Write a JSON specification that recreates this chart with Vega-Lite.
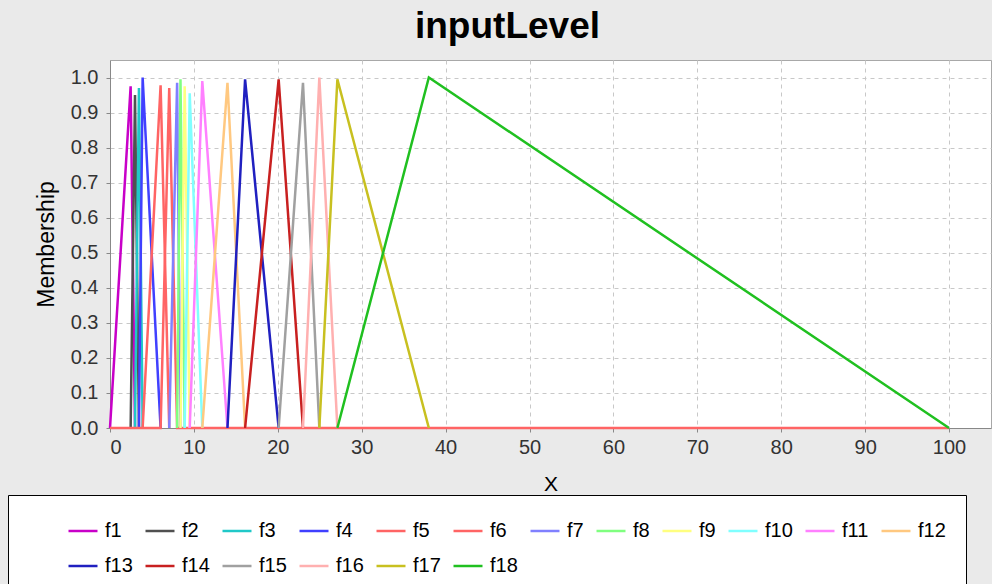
{
  "$schema": "https://vega.github.io/schema/vega-lite/v6.json",
  "width": 881,
  "height": 368,
  "autosize": {"type": "none"},
  "padding": {"left": 110, "top": 60, "right": 1, "bottom": 156},
  "background": "#EAEAEA",
  "title": {
    "text": "inputLevel",
    "font": "Liberation Sans",
    "fontSize": 37,
    "fontWeight": "bold",
    "color": "#000000",
    "anchor": "middle",
    "baseline": "alphabetic",
    "offset": 20,
    "dx": -43,
    "dy": 35
  },
  "config": {
    "view": {"fill": "#FFFFFF", "stroke": "#A8A8A8"},
    "axis": {
      "labelFont": "Liberation Sans",
      "titleFont": "Liberation Sans",
      "labelFontSize": 20,
      "titleFontSize": 21,
      "titleFontWeight": "normal",
      "labelColor": "#333333",
      "titleColor": "#000000",
      "domainColor": "#888888",
      "tickColor": "#888888",
      "tickSize": 4,
      "gridColor": "#C8C8C8",
      "gridDash": [4, 4],
      "gridWidth": 1
    },
    "legend": {
      "orient": "none",
      "direction": "horizontal",
      "legendX": -102,
      "legendY": 435,
      "fillColor": "#FFFFFF",
      "strokeColor": "#000000",
      "padding": 20,
      "titleOrient": "left",
      "titlePadding": 39,
      "columns": 12,
      "gridAlign": "none",
      "symbolType": "stroke",
      "symbolSize": 841,
      "symbolStrokeWidth": 2.5,
      "labelFont": "Liberation Sans",
      "labelFontSize": 20,
      "labelColor": "#000000",
      "labelOffset": 6,
      "columnPadding": 7,
      "rowPadding": 9
    }
  },
  "data": {
    "values": [
      {"s": "f1", "x": 0, "y": 0}, {"s": "f1", "x": 2.46, "y": 0.975}, {"s": "f1", "x": 2.98, "y": 0},
      {"s": "f2", "x": 2.46, "y": 0}, {"s": "f2", "x": 2.98, "y": 0.95}, {"s": "f2", "x": 3.45, "y": 0},
      {"s": "f3", "x": 2.98, "y": 0}, {"s": "f3", "x": 3.45, "y": 0.97}, {"s": "f3", "x": 3.89, "y": 0},
      {"s": "f4", "x": 3.45, "y": 0}, {"s": "f4", "x": 3.89, "y": 1.0}, {"s": "f4", "x": 6.03, "y": 0},
      {"s": "f5", "x": 3.89, "y": 0}, {"s": "f5", "x": 6.03, "y": 0.978}, {"s": "f5", "x": 7.06, "y": 0},
      {"s": "f6", "x": 0, "y": 0}, {"s": "f6", "x": 6.03, "y": 0}, {"s": "f6", "x": 7.06, "y": 0.97}, {"s": "f6", "x": 8.0, "y": 0}, {"s": "f6", "x": 100, "y": 0},
      {"s": "f7", "x": 7.06, "y": 0}, {"s": "f7", "x": 8.0, "y": 0.985}, {"s": "f7", "x": 8.4, "y": 0},
      {"s": "f8", "x": 8.0, "y": 0}, {"s": "f8", "x": 8.4, "y": 0.995}, {"s": "f8", "x": 8.9, "y": 0},
      {"s": "f9", "x": 8.4, "y": 0}, {"s": "f9", "x": 8.9, "y": 0.975}, {"s": "f9", "x": 9.5, "y": 0},
      {"s": "f10", "x": 8.9, "y": 0}, {"s": "f10", "x": 9.5, "y": 0.955}, {"s": "f10", "x": 11.0, "y": 0},
      {"s": "f11", "x": 9.5, "y": 0}, {"s": "f11", "x": 11.0, "y": 0.99}, {"s": "f11", "x": 14.0, "y": 0},
      {"s": "f12", "x": 11.0, "y": 0}, {"s": "f12", "x": 14.0, "y": 0.985}, {"s": "f12", "x": 16.1, "y": 0},
      {"s": "f13", "x": 14.0, "y": 0}, {"s": "f13", "x": 16.1, "y": 0.995}, {"s": "f13", "x": 20.1, "y": 0},
      {"s": "f14", "x": 16.1, "y": 0}, {"s": "f14", "x": 20.1, "y": 0.995}, {"s": "f14", "x": 23.0, "y": 0},
      {"s": "f15", "x": 20.1, "y": 0}, {"s": "f15", "x": 23.0, "y": 0.985}, {"s": "f15", "x": 24.95, "y": 0},
      {"s": "f16", "x": 23.0, "y": 0}, {"s": "f16", "x": 24.95, "y": 1.0}, {"s": "f16", "x": 27.1, "y": 0},
      {"s": "f17", "x": 24.95, "y": 0}, {"s": "f17", "x": 27.1, "y": 0.995}, {"s": "f17", "x": 38.0, "y": 0},
      {"s": "f18", "x": 27.1, "y": 0}, {"s": "f18", "x": 38.0, "y": 1.0}, {"s": "f18", "x": 100, "y": 0}
    ]
  },
  "mark": {"type": "line", "strokeWidth": 2.5},
  "encoding": {
    "x": {
      "field": "x",
      "type": "quantitative",
      "scale": {"domain": [0, 105], "nice": false, "zero": false},
      "axis": {"title": "X", "values": [0, 10, 20, 30, 40, 50, 60, 70, 80, 90, 100], "format": "d", "labelPadding": 5, "titlePadding": 16}
    },
    "y": {
      "field": "y",
      "type": "quantitative",
      "scale": {"domain": [0, 1.05], "nice": false},
      "axis": {"title": "Membership", "titleFontSize": 23, "values": [0, 0.1, 0.2, 0.3, 0.4, 0.5, 0.6, 0.7, 0.8, 0.9, 1.0], "format": ".1f", "labelPadding": 8, "titlePadding": 12}
    },
    "color": {
      "field": "s",
      "type": "nominal",
      "title": " ",
      "legend": {"gridAlign": "none", "columns": 12, "direction": "horizontal"},
      "scale": {
        "domain": ["f1", "f2", "f3", "f4", "f5", "f6", "f7", "f8", "f9", "f10", "f11", "f12", "f13", "f14", "f15", "f16", "f17", "f18"],
        "range": ["#C800C8", "#505050", "#20C8C8", "#4040FF", "#FF6464", "#FF6464", "#8080FF", "#80FF80", "#FFFF80", "#80FFFF", "#FF80FF", "#FFC880", "#2020C0", "#C82020", "#A0A0A0", "#FFB0B0", "#C8C020", "#20C020"]
      }
    }
  }
}
